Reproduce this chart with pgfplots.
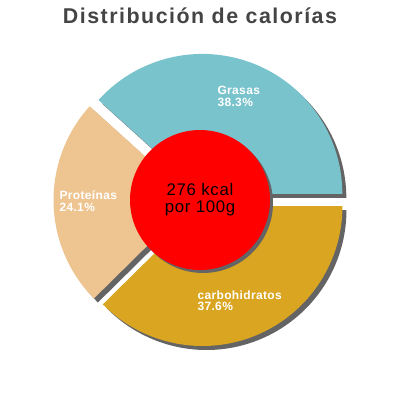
\documentclass[border=0pt]{standalone}
\usepackage{fontspec}
\setmainfont{Liberation Sans}
\usepackage{pgfplots}
\pgfplotsset{compat=1.18}

\definecolor{grasas}{HTML}{79C3CC}
\definecolor{proteinas}{HTML}{EEC591}
\definecolor{carbo}{HTML}{DAA520}
\definecolor{sombra}{HTML}{646464}
\definecolor{titulo}{HTML}{444444}

\begin{document}
\begin{tikzpicture}
\begin{axis}[
    name=ax,
    width=400pt, height=400pt,
    scale only axis,
    xmin=-200, xmax=200,
    ymin=-200, ymax=200,
    hide axis,
    clip=false,
    % sectors are given as (angle, radius)
    data cs=polar,
    samples=90,
]
% Grasas 38.3%, Proteinas 24.1%, carbohidratos 37.6% -> angles x3.6
% shadows
\addplot[draw=none, fill=sombra, domain=0:137.88, xshift=6.34pt, yshift=2.07pt] {140} -- (axis cs:0,0) -- cycle;
\addplot[draw=none, fill=sombra, domain=137.88:224.64, xshift=-2.50pt, yshift=-4.14pt] {140} -- (axis cs:0,0) -- cycle;
\addplot[draw=none, fill=sombra, domain=224.64:360, xshift=6.47pt, yshift=-10.01pt] {140} -- (axis cs:0,0) -- cycle;
% slices
\addplot[draw=none, fill=grasas, domain=0:137.88, xshift=2.34pt, yshift=6.07pt] {140} -- (axis cs:0,0) -- cycle;
\addplot[draw=none, fill=proteinas, domain=137.88:224.64, xshift=-6.50pt, yshift=-0.14pt] {140} -- (axis cs:0,0) -- cycle;
\addplot[draw=none, fill=carbo, domain=224.64:360, xshift=2.47pt, yshift=-6.01pt] {140} -- (axis cs:0,0) -- cycle;
% centre disc
\addplot[draw=none, fill=sombra, domain=0:360, samples=121, xshift=3pt, yshift=-3pt] {70} -- cycle;
\addplot[draw=none, fill=red, domain=0:360, samples=121] {70} -- cycle;

% labels
\begin{scope}[every node/.style={anchor=base west, inner sep=0pt, text=white,
    font=\fontsize{12}{14}\selectfont\bfseries\addfontfeature{LetterSpace=3}}]
\node at (axis cs:0,0) [xshift=17.3pt, yshift=105pt] {Grasas};
\node at (axis cs:0,0) [xshift=17.3pt, yshift=93.3pt] {38.3\%};
\node at (axis cs:0,0) [xshift=-140.7pt, yshift=0.7pt] {Proteínas};
\node at (axis cs:0,0) [xshift=-140.7pt, yshift=-11.3pt] {24.1\%};
\node at (axis cs:0,0) [xshift=-2.7pt, yshift=-99.3pt] {carbohidratos};
\node at (axis cs:0,0) [xshift=-2.7pt, yshift=-111pt] {37.6\%};
\end{scope}
\begin{scope}[every node/.style={anchor=base, inner sep=0pt,
    font=\fontsize{16.8}{20}\selectfont\addfontfeature{LetterSpace=4}}]
\node at (axis cs:0,0) [yshift=4.7pt] {276 kcal};
\node at (axis cs:0,0) [yshift=-13pt] {por 100g};
\end{scope}
\node[anchor=base, inner sep=0pt, text=titulo,
    font=\fontsize{21.4}{24}\selectfont\bfseries\addfontfeature{LetterSpace=7}]
    at (axis cs:0,0) [yshift=176pt] {Distribución de calorías};
\end{axis}
\pgfresetboundingbox
\useasboundingbox (ax.south west) rectangle (ax.north east);
\end{tikzpicture}
\end{document}
